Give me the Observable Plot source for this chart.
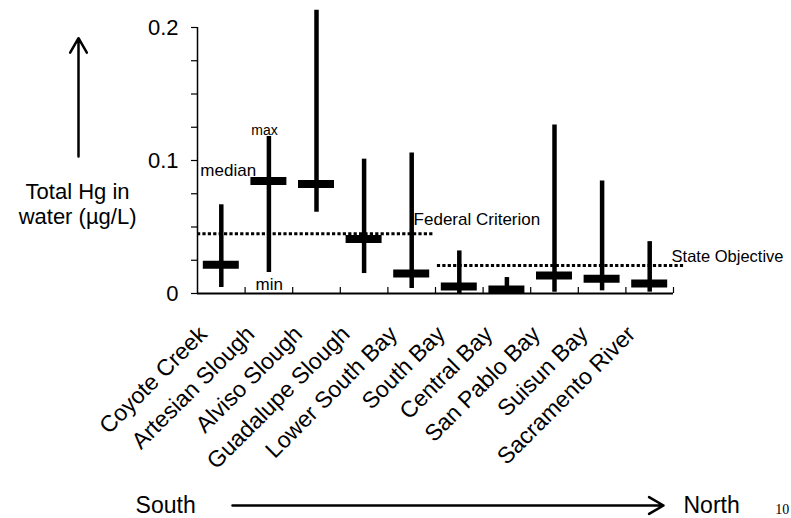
<!DOCTYPE html>
<html>
<head>
<meta charset="utf-8">
<script src="https://cdn.jsdelivr.net/npm/d3@7"></script>
<script src="https://cdn.jsdelivr.net/npm/@observablehq/plot@0.6"></script>
<style>
  html, body { margin: 0; padding: 0; background: white; }
</style>
</head>
<body>
<div id="chart"></div>
<script>
// ---- data ----
const categories = ["Coyote Creek", "Artesian Slough", "Alviso Slough", "Guadalupe Slough", "Lower South Bay", "South Bay", "Central Bay", "San Pablo Bay", "Suisun Bay", "Sacramento River"];
const minValues    = [0.0045, 0.0157, 0.061, 0.015, 0.0037, 0.000, 0.000, 0.001, 0.002, 0.001];
const medianValues = [0.0217, 0.0846, 0.0824, 0.041, 0.015, 0.0052, 0.003, 0.0135, 0.011, 0.0075];
const maxValues    = [0.0667, 0.118, 0.213, 0.101, 0.1056, 0.032, 0.012, 0.1266, 0.0846, 0.039];
const criteriaNames  = ["Federal Criterion", "State Objective"];
const criteriaValues = [0.045, 0.021];
const yTicks      = [0, 0.025, 0.05, 0.075, 0.1, 0.125, 0.15, 0.175, 0.2];
const yTickLabels = ["0", "", "", "", "0.1", "", "", "", "0.2"];
const xBoundaryTicks = [1, 2, 3, 4, 5, 6, 7, 8, 9, 10];
const yTitleLines = ["Total Hg in", "water (µg/L)"];

// ---- table ----
const rows = categories.map((c, i) => ({c, i: i + 0.5, min: minValues[i], median: medianValues[i], max: maxValues[i]}));
const yLabelMap = new Map(yTicks.map((t, i) => [t, yTickLabels[i]]));
const half = 0.378;
const font = "'Liberation Sans', Arial, Helvetica, sans-serif";

const chart = Plot.plot({
  width: 791,
  height: 518,
  marginLeft: 197,
  marginRight: 118,
  marginTop: 27,
  marginBottom: 225,
  x: {domain: [0, 10], axis: null},
  y: {domain: [0, 0.2], axis: null},
  style: {fontFamily: font, background: "white", color: "black", overflow: "visible"},
  marks: [
    // axes lines
    Plot.ruleX([0], {y1: 0, y2: 0.2, strokeWidth: 1.5}),
    Plot.ruleY([0], {x1: 0, x2: 10, strokeWidth: 2}),
    Plot.axisY({ticks: yTicks, tickSize: 6, tickPadding: 13, fontSize: 22, strokeWidth: 1.2, tickFormat: d => yLabelMap.get(d)}),
    Plot.axisX({ticks: xBoundaryTicks, tickSize: 6, dy: -6, strokeWidth: 1.2, tickFormat: () => ""}),
    // criteria dotted lines
    Plot.ruleY([criteriaValues[0]], {x1: 0, x2: 4.98, strokeWidth: 3, strokeDasharray: "3.2,2.2"}),
    Plot.ruleY([criteriaValues[1]], {x1: 5.04, x2: 10.25, strokeWidth: 3, strokeDasharray: "3.2,2.2"}),
    // whiskers (min-max)
    Plot.ruleX(rows, {x: "i", y1: "min", y2: "max", strokeWidth: 4.5}),
    // medians
    Plot.ruleY(rows, {y: "median", x1: d => d.i - half, x2: d => d.i + half, strokeWidth: 8}),
    // category labels
    Plot.text(rows, {x: "i", y: 0, text: "c", rotate: -45, textAnchor: "end", lineAnchor: "bottom", dx: -13, dy: 42, fontSize: 23}),
    // annotations
    Plot.text(["median"], {x: 0.06, y: 0.0925, text: d => d, textAnchor: "start", fontSize: 17}),
    Plot.text(["max"], {x: 1.13, y: 0.1226, text: d => d, textAnchor: "start", fontSize: 14}),
    Plot.text(["min"], {x: 1.22, y: 0.0068, text: d => d, textAnchor: "start", fontSize: 17}),
    Plot.text([criteriaNames[0]], {x: 4.54, y: 0.0555, text: d => d, textAnchor: "start", fontSize: 17}),
    Plot.text([criteriaNames[1]], {x: 9.96, y: 0.0278, text: d => d, textAnchor: "start", fontSize: 16.5}),
    // y label with arrow
    Plot.text(yTitleLines, {x: -2.52, y: (d, i) => [0.0714, 0.0519][i], text: d => d, textAnchor: "middle", lineAnchor: "bottom", fontSize: 22}),
    Plot.arrow([{x1: -2.5, y1: 0.103, x2: -2.5, y2: 0.192}], {x1: "x1", y1: "y1", x2: "x2", y2: "y2", strokeWidth: 2.5, headLength: 10, headAngle: 60}),
    // South -> North
    Plot.text(["South"], {x: -1.3, y: -0.1594, text: d => d, textAnchor: "start", lineAnchor: "middle", fontSize: 23}),
    Plot.arrow([{x1: 0.735, y1: -0.1594, x2: 9.79, y2: -0.1594}], {x1: "x1", y1: "y1", x2: "x2", y2: "y2", strokeWidth: 2.5, headLength: 10, headAngle: 60}),
    Plot.text(["North"], {x: 10.21, y: -0.1594, text: d => d, textAnchor: "start", lineAnchor: "middle", fontSize: 23}),
    Plot.text(["10"], {x: 12.14, y: -0.1625, text: d => d, textAnchor: "start", lineAnchor: "middle", fontSize: 14, fontFamily: "'Liberation Serif', 'Times New Roman', serif"})
  ]
});
document.getElementById("chart").appendChild(chart);
</script>
</body>
</html>
